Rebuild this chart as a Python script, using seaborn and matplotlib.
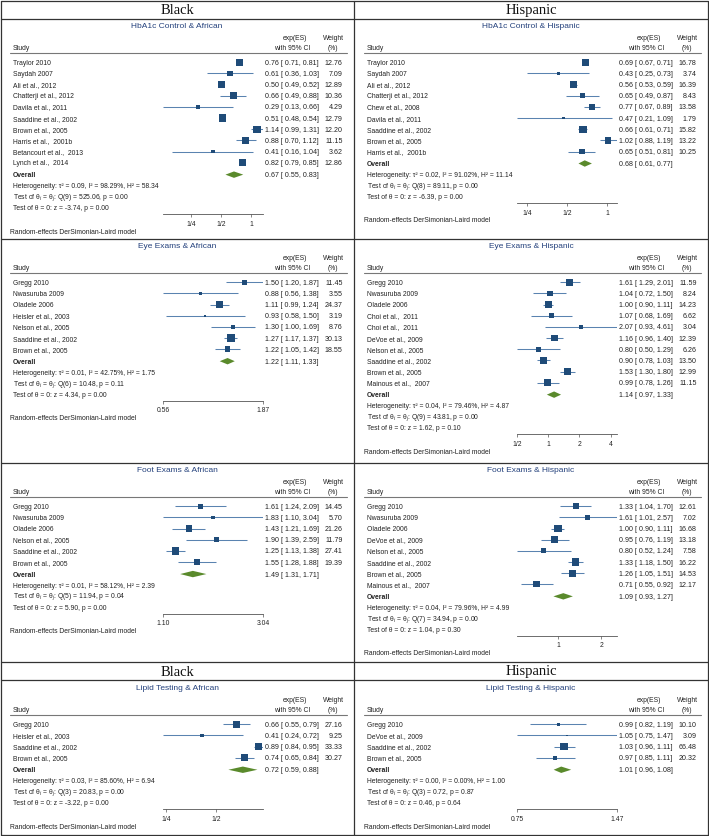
import matplotlib
matplotlib.use("Agg")
import matplotlib.pyplot as plt
from matplotlib.lines import Line2D
from matplotlib.ticker import NullLocator
import pandas as pd
import seaborn as sns

# ---------------- data ----------------
hba1c_af_studies = ['Traylor 2010', 'Saydah 2007', 'Ali et al., 2012', 'Chatterji et al., 2012',
                    'Davila et al., 2011', 'Saaddine et al., 2002', 'Brown et al., 2005',
                    'Harris et al.,  2001b', 'Betancourt et al.,  2013', 'Lynch et al.,  2014']
hba1c_af_es = [0.76, 0.61, 0.50, 0.66, 0.29, 0.51, 1.14, 0.88, 0.41, 0.82]
hba1c_af_lo = [0.71, 0.36, 0.49, 0.49, 0.13, 0.48, 0.99, 0.70, 0.16, 0.79]
hba1c_af_hi = [0.81, 1.03, 0.52, 0.88, 0.66, 0.54, 1.31, 1.12, 1.04, 0.85]
hba1c_af_wt = [12.76, 7.09, 12.89, 10.36, 4.29, 12.79, 12.20, 11.15, 3.62, 12.86]
hba1c_af_overall = [0.67, 0.55, 0.83]
hba1c_af_het = [0.09, 98.29, 58.34]
hba1c_af_q = [9, 525.06, 0.00]
hba1c_af_z = [-3.74, 0.00]
hba1c_af_ticks = [0.25, 0.5, 1]
hba1c_af_ticklabels = ['1/4', '1/2', '1']

hba1c_hi_studies = ['Traylor 2010', 'Saydah 2007', 'Ali et al., 2012', 'Chatterji et al., 2012',
                    'Chew et al., 2008', 'Davila et al., 2011', 'Saaddine et al., 2002',
                    'Brown et al., 2005', 'Harris et al.,  2001b']
hba1c_hi_es = [0.69, 0.43, 0.56, 0.65, 0.77, 0.47, 0.66, 1.02, 0.65]
hba1c_hi_lo = [0.67, 0.25, 0.53, 0.49, 0.67, 0.21, 0.61, 0.88, 0.51]
hba1c_hi_hi = [0.71, 0.73, 0.59, 0.87, 0.89, 1.09, 0.71, 1.19, 0.81]
hba1c_hi_wt = [16.78, 3.74, 16.39, 8.43, 13.58, 1.79, 15.82, 13.22, 10.25]
hba1c_hi_overall = [0.68, 0.61, 0.77]
hba1c_hi_het = [0.02, 91.02, 11.14]
hba1c_hi_q = [8, 89.11, 0.00]
hba1c_hi_z = [-6.39, 0.00]
hba1c_hi_ticks = [0.25, 0.5, 1]
hba1c_hi_ticklabels = ['1/4', '1/2', '1']

eye_af_studies = ['Gregg 2010', 'Nwasuruba 2009', 'Oladele 2006', 'Heisler et al., 2003',
                  'Nelson et al., 2005', 'Saaddine et al., 2002', 'Brown et al., 2005']
eye_af_es = [1.50, 0.88, 1.11, 0.93, 1.30, 1.27, 1.22]
eye_af_lo = [1.20, 0.56, 0.99, 0.58, 1.00, 1.17, 1.05]
eye_af_hi = [1.87, 1.38, 1.24, 1.50, 1.69, 1.37, 1.42]
eye_af_wt = [11.45, 3.55, 24.37, 3.19, 8.76, 30.13, 18.55]
eye_af_overall = [1.22, 1.11, 1.33]
eye_af_het = [0.01, 42.75, 1.75]
eye_af_q = [6, 10.48, 0.11]
eye_af_z = [4.34, 0.00]
eye_af_ticks = [0.56, 1.87]
eye_af_ticklabels = ['0.56', '1.87']

eye_hi_studies = ['Gregg 2010', 'Nwasuruba 2009', 'Oladele 2006', 'Choi et al.,  2011',
                  'Choi et al.,  2011', 'DeVoe et al., 2009', 'Nelson et al., 2005',
                  'Saaddine et al., 2002', 'Brown et al., 2005', 'Mainous et al.,  2007']
eye_hi_es = [1.61, 1.04, 1.00, 1.07, 2.07, 1.16, 0.80, 0.90, 1.53, 0.99]
eye_hi_lo = [1.29, 0.72, 0.90, 0.68, 0.93, 0.96, 0.50, 0.78, 1.30, 0.78]
eye_hi_hi = [2.01, 1.50, 1.11, 1.69, 4.61, 1.40, 1.29, 1.03, 1.80, 1.26]
eye_hi_wt = [11.59, 8.24, 14.23, 6.62, 3.04, 12.39, 6.26, 13.50, 12.99, 11.15]
eye_hi_overall = [1.14, 0.97, 1.33]
eye_hi_het = [0.04, 79.46, 4.87]
eye_hi_q = [9, 43.81, 0.00]
eye_hi_z = [1.62, 0.10]
eye_hi_ticks = [0.5, 1, 2, 4]
eye_hi_ticklabels = ['1/2', '1', '2', '4']

foot_af_studies = ['Gregg 2010', 'Nwasuruba 2009', 'Oladele 2006', 'Nelson et al., 2005',
                   'Saaddine et al., 2002', 'Brown et al., 2005']
foot_af_es = [1.61, 1.83, 1.43, 1.90, 1.25, 1.55]
foot_af_lo = [1.24, 1.10, 1.21, 1.39, 1.13, 1.28]
foot_af_hi = [2.09, 3.04, 1.69, 2.59, 1.38, 1.88]
foot_af_wt = [14.45, 5.70, 21.26, 11.79, 27.41, 19.39]
foot_af_overall = [1.49, 1.31, 1.71]
foot_af_het = [0.01, 58.12, 2.39]
foot_af_q = [5, 11.94, 0.04]
foot_af_z = [5.90, 0.00]
foot_af_ticks = [1.10, 3.04]
foot_af_ticklabels = ['1.10', '3.04']

foot_hi_studies = ['Gregg 2010', 'Nwasuruba 2009', 'Oladele 2006', 'DeVoe et al., 2009',
                   'Nelson et al., 2005', 'Saaddine et al., 2002', 'Brown et al., 2005',
                   'Mainous et al.,  2007']
foot_hi_es = [1.33, 1.61, 1.00, 0.95, 0.80, 1.33, 1.26, 0.71]
foot_hi_lo = [1.04, 1.01, 0.90, 0.76, 0.52, 1.18, 1.05, 0.55]
foot_hi_hi = [1.70, 2.57, 1.11, 1.19, 1.24, 1.50, 1.51, 0.92]
foot_hi_wt = [12.61, 7.02, 16.68, 13.18, 7.58, 16.22, 14.53, 12.17]
foot_hi_overall = [1.09, 0.93, 1.27]
foot_hi_het = [0.04, 79.96, 4.99]
foot_hi_q = [7, 34.94, 0.00]
foot_hi_z = [1.04, 0.30]
foot_hi_ticks = [1, 2]
foot_hi_ticklabels = ['1', '2']

lipid_af_studies = ['Gregg 2010', 'Heisler et al., 2003', 'Saaddine et al., 2002', 'Brown et al., 2005']
lipid_af_es = [0.66, 0.41, 0.89, 0.74]
lipid_af_lo = [0.55, 0.24, 0.84, 0.65]
lipid_af_hi = [0.79, 0.72, 0.95, 0.84]
lipid_af_wt = [27.16, 9.25, 33.33, 30.27]
lipid_af_overall = [0.72, 0.59, 0.88]
lipid_af_het = [0.03, 85.60, 6.94]
lipid_af_q = [3, 20.83, 0.00]
lipid_af_z = [-3.22, 0.00]
lipid_af_ticks = [0.25, 0.5]
lipid_af_ticklabels = ['1/4', '1/2']

lipid_hi_studies = ['Gregg 2010', 'DeVoe et al., 2009', 'Saaddine et al., 2002', 'Brown et al., 2005']
lipid_hi_es = [0.99, 1.05, 1.03, 0.97]
lipid_hi_lo = [0.82, 0.75, 0.96, 0.85]
lipid_hi_hi = [1.19, 1.47, 1.11, 1.11]
lipid_hi_wt = [10.10, 3.09, 66.48, 20.32]
lipid_hi_overall = [1.01, 0.96, 1.08]
lipid_hi_het = [0.00, 0.00, 1.00]
lipid_hi_q = [3, 0.72, 0.87]
lipid_hi_z = [0.46, 0.64]
lipid_hi_ticks = [0.75, 1.47]
lipid_hi_ticklabels = ['0.75', '1.47']

# ---------------- style ----------------
W, H = 709, 837
sns.set_theme(style="white")
plt.rcParams['font.family'] = ['Liberation Sans', 'DejaVu Sans']
plt.rcParams['mathtext.fontset'] = 'custom'
plt.rcParams['mathtext.rm'] = 'Liberation Sans'
plt.rcParams['mathtext.it'] = 'Liberation Sans:italic'

NAVY = '#1f4b78'
CI_BLUE = '#5a83b0'
GREEN = '#5a8a2c'
TXT = '#222222'
FS = 4.9

fig = plt.figure(figsize=(W / 100, H / 100), dpi=100)


def put(x, y, s, **kw):
    kw.setdefault('fontsize', FS)
    kw.setdefault('color', TXT)
    kw.setdefault('va', 'center')
    fig.text(x / W, 1 - y / H, s, **kw)


def hline(x0, x1, y, **kw):
    fig.add_artist(Line2D([x0 / W, x1 / W], [1 - y / H, 1 - y / H], **kw))


def vline(x, y0, y1, **kw):
    fig.add_artist(Line2D([x / W, x / W], [1 - y0 / H, 1 - y1 / H], **kw))


def forest(left, top, title, studies, es, lo, hi, wt, overall, het, qtest, ztest, ticks, ticklabels):
    n = len(studies)
    sp = 11.15
    y0 = top + 43.3
    ys = [y0 + i * sp for i in range(n)]
    yo = ys[-1] + 12
    ax_y = yo + 39.5
    ax_top = y0 - 6

    ax = fig.add_axes([(left + 163) / W, 1 - ax_y / H, 100 / W, (ax_y - ax_top) / H])
    ax.patch.set_alpha(0)

    # confidence intervals
    ax.hlines(ys, lo, hi, color=CI_BLUE, lw=0.75, zorder=2)
    # study squares, area proportional to weight
    df = pd.DataFrame({'es': es, 'y': ys, 'w': wt})
    sns.scatterplot(data=df, x='es', y='y', size='w', sizes=(0, 28), size_norm=(0, max(wt)),
                    marker='s', color=NAVY, linewidth=0, legend=False, ax=ax, zorder=3, clip_on=False)
    # overall diamond
    oes, olo, ohi = overall
    ax.fill([olo, oes, ohi, oes], [yo, yo - 3.2, yo, yo + 3.2], color=GREEN, lw=0, zorder=3,
            clip_on=False)

    ax.set_xscale('log')
    ax.set_xlim(min(min(lo), min(ticks)), max(max(hi), max(ticks)))
    ax.set_ylim(ax_y, ax_top)
    ax.set_xticks(ticks)
    ax.set_xticklabels(ticklabels)
    ax.xaxis.set_minor_locator(NullLocator())
    ax.set_yticks([])
    ax.set_xlabel('')
    ax.set_ylabel('')
    for s in ['top', 'left', 'right']:
        ax.spines[s].set_visible(False)
    ax.spines['bottom'].set_color('#555555')
    ax.spines['bottom'].set_linewidth(0.6)
    ax.tick_params(axis='x', bottom=True, length=2.5, width=0.5, labelsize=FS, pad=1.5,
                   colors='#555555', labelcolor=TXT)

    # header texts
    put(left + 177, top + 7, title, fontsize=6.0, color='#24417c', ha='center')
    put(left + 295, top + 19, 'exp(ES)', ha='center')
    put(left + 292, top + 28.5, 'with 95% CI', ha='center')
    put(left + 333, top + 19, 'Weight', ha='center')
    put(left + 333, top + 28.5, '(%)', ha='center')
    put(left + 13, top + 28.5, 'Study')
    hline(left + 10, left + 347, top + 34, color='#777777', lw=0.8)

    for name, e, l, h, w, y in zip(studies, es, lo, hi, wt, ys):
        put(left + 13, y, name)
        put(left + 265, y, f"{e:.2f} [ {l:.2f}, {h:.2f}]", fontsize=5.1)
        put(left + 342.5, y, f"{w:.2f}", ha='right', fontsize=5.1)

    put(left + 13, yo, 'Overall', fontweight='bold')
    put(left + 265, yo, f"{oes:.2f} [ {olo:.2f}, {ohi:.2f}]", fontsize=5.1)
    put(left + 13, yo + 11, f"Heterogeneity: τ² = {het[0]:.2f}, I² = {het[1]:.2f}%, H² = {het[2]:.2f}")
    put(left + 13, yo + 22, f"Test of θ$_i$ = θ$_j$: Q({qtest[0]}) = {qtest[1]:.2f}, p = {qtest[2]:.2f}")
    put(left + 13, yo + 33, f"Test of θ = 0: z = {ztest[0]:.2f}, p = {ztest[1]:.2f}")
    put(left + 10, ax_y + 17, 'Random-effects DerSimonian-Laird model')


# ---------------- grid of boxes ----------------
BORDER = dict(color='#333333', lw=0.9)
for yy in [1.5, 19.5, 240, 464, 663, 681, 836]:
    hline(1, 708, yy, **BORDER)
for xx in [1, 354, 708]:
    vline(xx, 1.5, 836, **BORDER)

for yy in [10.5, 672]:
    put(177, yy, 'Black', family='Liberation Serif', fontsize=10.5, ha='center', color='#111111')
    put(531, yy, 'Hispanic', family='Liberation Serif', fontsize=10.5, ha='center', color='#111111')

# ---------------- panels ----------------
forest(0, 20, 'HbA1c Control & African', hba1c_af_studies, hba1c_af_es, hba1c_af_lo, hba1c_af_hi,
       hba1c_af_wt, hba1c_af_overall, hba1c_af_het, hba1c_af_q, hba1c_af_z,
       hba1c_af_ticks, hba1c_af_ticklabels)
forest(354, 20, 'HbA1c Control & Hispanic', hba1c_hi_studies, hba1c_hi_es, hba1c_hi_lo, hba1c_hi_hi,
       hba1c_hi_wt, hba1c_hi_overall, hba1c_hi_het, hba1c_hi_q, hba1c_hi_z,
       hba1c_hi_ticks, hba1c_hi_ticklabels)
forest(0, 240, 'Eye Exams & African', eye_af_studies, eye_af_es, eye_af_lo, eye_af_hi,
       eye_af_wt, eye_af_overall, eye_af_het, eye_af_q, eye_af_z,
       eye_af_ticks, eye_af_ticklabels)
forest(354, 240, 'Eye Exams & Hispanic', eye_hi_studies, eye_hi_es, eye_hi_lo, eye_hi_hi,
       eye_hi_wt, eye_hi_overall, eye_hi_het, eye_hi_q, eye_hi_z,
       eye_hi_ticks, eye_hi_ticklabels)
forest(0, 464, 'Foot Exams & African', foot_af_studies, foot_af_es, foot_af_lo, foot_af_hi,
       foot_af_wt, foot_af_overall, foot_af_het, foot_af_q, foot_af_z,
       foot_af_ticks, foot_af_ticklabels)
forest(354, 464, 'Foot Exams & Hispanic', foot_hi_studies, foot_hi_es, foot_hi_lo, foot_hi_hi,
       foot_hi_wt, foot_hi_overall, foot_hi_het, foot_hi_q, foot_hi_z,
       foot_hi_ticks, foot_hi_ticklabels)
forest(0, 682, 'Lipid Testing & African', lipid_af_studies, lipid_af_es, lipid_af_lo, lipid_af_hi,
       lipid_af_wt, lipid_af_overall, lipid_af_het, lipid_af_q, lipid_af_z,
       lipid_af_ticks, lipid_af_ticklabels)
forest(354, 682, 'Lipid Testing & Hispanic', lipid_hi_studies, lipid_hi_es, lipid_hi_lo, lipid_hi_hi,
       lipid_hi_wt, lipid_hi_overall, lipid_hi_het, lipid_hi_q, lipid_hi_z,
       lipid_hi_ticks, lipid_hi_ticklabels)

fig.savefig('out.png', dpi=100)
